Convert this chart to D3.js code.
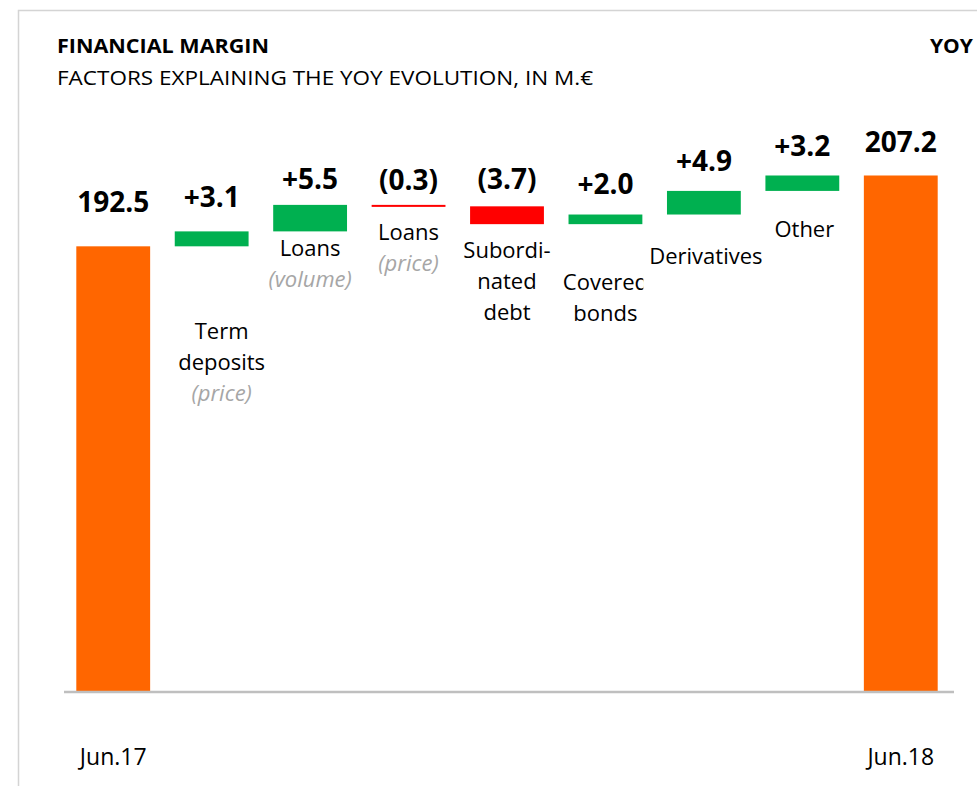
<!DOCTYPE html>
<html>
<head>
<meta charset="utf-8">
<script src="https://cdn.jsdelivr.net/npm/d3@7"></script>
<style>
  body { margin: 0; background: #fff; }
  svg { display: block; font-family: "Open Sans", sans-serif; }
</style>
</head>
<body>
<svg id="chart"></svg>
<script>
const categories = ['Jun.17', 'Term deposits', 'Loans volume', 'Loans price', 'Subordinated debt',
  'Covered bonds', 'Derivatives', 'Other', 'Jun.18'];
const startValue = 192.5;
const deltas = [3.1, 5.5, -0.3, -3.7, 2.0, 4.9, 3.2];
const endValue = 207.2;
const axisLabels = ['Jun.17', 'Jun.18'];
const categoryLabels = [
  [],
  [['Term', false], ['deposits', false], ['(price)', true]],
  [['Loans', false], ['(volume)', true]],
  [['Loans', false], ['(price)', true]],
  [['Subordi-', false], ['nated', false], ['debt', false]],
  [['Covered', false], ['bonds', false]],
  [['Derivatives', false]],
  [['Other', false]],
  []
];
const titleText = 'FINANCIAL MARGIN';
const subtitleText = 'FACTORS EXPLAINING THE YOY EVOLUTION, IN M.€';
const cornerText = 'YOY';

// hand placed offsets, like the text boxes in the original slide
const valueGap = [34, 24, 16, 15, 17, 21, 20, 19, 23];
const labelGap = [0, 93, 25, 34, 34, 66, 49, 46, 0];
const labelShift = [0, 10, 0, 0, 0, 0, 2, 2, 0];

const colors = { total: '#FF6600', up: '#00B050', down: '#FF0000' };

createWaterfall();

function createWaterfall() {
  const svgSize = { width: 977, height: 786 };
  const svg = d3.select('#chart').attr('width', svgSize.width).attr('height', svgSize.height);
  const steps = getSteps();
  const xBand = d3.scaleBand().domain(categories).range([64, 950]).paddingInner(0.25).paddingOuter(0.125);
  const yLine = d3.scaleLinear().domain([100, 210]).range([692, 162]);
  drawFrame(svg, svgSize);
  drawTitles(svg);
  drawBars(svg, steps, xBand, yLine);
  drawAxis(svg, xBand, yLine);
  drawValueLabels(svg, steps, xBand, yLine);
  drawCategoryLabels(svg, steps, xBand, yLine);
}

function getSteps() {
  const steps = [{ cat: categories[0], from: yStart(), to: startValue, value: startValue, type: 'total' }];
  let running = startValue;
  deltas.forEach((d, i) => {
    steps.push({ cat: categories[i + 1], from: running, to: running + d, value: d, type: d >= 0 ? 'up' : 'down' });
    running += d;
  });
  steps.push({ cat: categories[categories.length - 1], from: yStart(), to: endValue, value: endValue, type: 'total' });
  return steps;
}

function yStart() {
  return 100;
}

function drawFrame(svg, svgSize) {
  svg.append('path')
    .attr('d', `M18.5,${svgSize.height} V10.5 H${svgSize.width}`)
    .attr('fill', 'none')
    .attr('stroke', '#d4d4d4')
    .attr('stroke-width', 1.5);
}

function drawTitles(svg) {
  svg.append('text').attr('x', 57).attr('y', 53)
    .attr('font-size', 20).attr('font-weight', 700).attr('fill', '#000')
    .attr('textLength', 212).attr('lengthAdjust', 'spacingAndGlyphs')
    .text(titleText);
  svg.append('text').attr('x', 57).attr('y', 85)
    .attr('font-size', 20).attr('fill', '#000')
    .attr('textLength', 536).attr('lengthAdjust', 'spacingAndGlyphs')
    .text(subtitleText);
  svg.append('text').attr('x', 930).attr('y', 53)
    .attr('font-size', 20).attr('font-weight', 700).attr('fill', '#000')
    .attr('textLength', 43).attr('lengthAdjust', 'spacingAndGlyphs')
    .text(cornerText);
}

function drawBars(svg, steps, xBand, yLine) {
  svg.append('g').selectAll('rect')
    .data(steps)
    .enter()
    .append('rect')
    .attr('x', d => xBand(d.cat))
    .attr('width', xBand.bandwidth())
    .attr('y', d => yLine(Math.max(d.from, d.to)))
    .attr('height', d => Math.max(2, Math.abs(yLine(d.from) - yLine(d.to))))
    .attr('fill', d => colors[d.type]);
}

function drawAxis(svg, xBand, yLine) {
  const axis = d3.axisBottom(xBand)
    .tickSize(0)
    .tickPadding(57)
    .tickFormat(d => axisLabels.includes(d) ? d : '');
  const g = svg.append('g')
    .attr('transform', `translate(0, ${yLine(yStart())})`)
    .call(axis);
  g.select('.domain')
    .attr('d', `M64,0H954`)
    .attr('stroke', '#bfbfbf')
    .attr('stroke-width', 2.5);
  g.selectAll('.tick text')
    .attr('font-family', '"Open Sans", sans-serif')
    .attr('font-size', 23)
    .attr('fill', '#000');
}

function formatValue(d) {
  if (d.type === 'total') return d.value.toFixed(1);
  if (d.value < 0) return `(${Math.abs(d.value).toFixed(1)})`;
  return `+${d.value.toFixed(1)}`;
}

function drawValueLabels(svg, steps, xBand, yLine) {
  svg.append('g').selectAll('text')
    .data(steps)
    .enter()
    .append('text')
    .attr('x', d => xBand(d.cat) + xBand.bandwidth() / 2)
    .attr('y', (d, i) => yLine(Math.max(d.from, d.to)) - valueGap[i])
    .attr('text-anchor', 'middle')
    .attr('font-size', 28)
    .attr('font-weight', 700)
    .attr('fill', '#000')
    .text(formatValue);
}

function drawCategoryLabels(svg, steps, xBand, yLine) {
  const defs = svg.append('defs');
  const group = svg.append('g');
  steps.forEach((d, i) => {
    const lines = categoryLabels[i];
    if (!lines.length) return;
    const cx = xBand(d.cat) + xBand.bandwidth() / 2 + labelShift[i];
    const top = yLine(Math.min(d.from, d.to)) + labelGap[i];
    const text = group.append('text')
      .attr('text-anchor', 'middle')
      .attr('font-size', 22);
    if (d.cat === 'Covered bonds') {
      // the text box is too narrow in the source slide, so "Covered" gets cut
      defs.append('clipPath').attr('id', 'covered-clip')
        .append('rect')
        .attr('x', xBand(d.cat) - 20)
        .attr('y', top - 40)
        .attr('width', xBand.bandwidth() + 21)
        .attr('height', 120);
      text.attr('clip-path', 'url(#covered-clip)');
    }
    lines.forEach((line, j) => {
      text.append('tspan')
        .attr('x', cx)
        .attr('y', top + j * 31)
        .attr('font-style', line[1] ? 'italic' : 'normal')
        .attr('fill', line[1] ? '#a6a6a6' : '#000')
        .text(line[0]);
    });
  });
}
</script>
</body>
</html>
